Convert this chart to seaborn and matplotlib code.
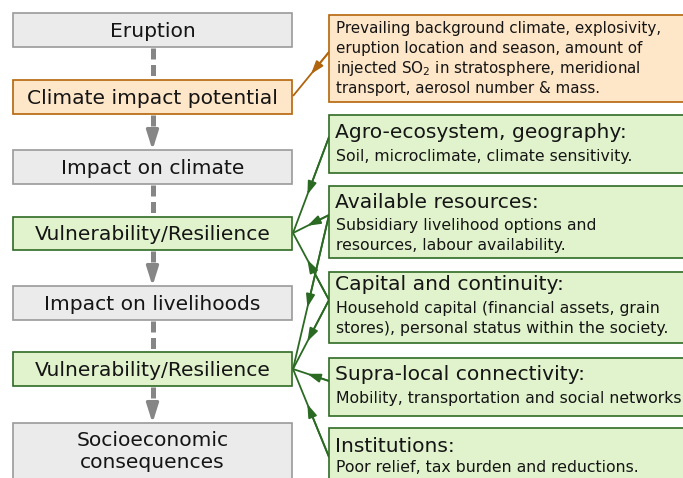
import matplotlib
matplotlib.use("Agg")
import matplotlib.pyplot as plt
import seaborn as sns
from matplotlib.patches import Rectangle

# ---------------- data ----------------
left_labels = ["Eruption", "Climate impact potential", "Impact on climate",
               "Vulnerability/Resilience", "Impact on livelihoods",
               "Vulnerability/Resilience", "Socioeconomic\nconsequences"]
left_kinds = ["gray", "orange", "gray", "green", "gray", "green", "gray"]

orange_note = ["Prevailing background climate, explosivity,",
               "eruption location and season, amount of",
               "injected SO$_2$ in stratosphere, meridional",
               "transport, aerosol number & mass."]

factor_titles = ["Agro-ecosystem, geography:", "Available resources:",
                 "Capital and continuity:", "Supra-local connectivity:",
                 "Institutions:"]
factor_texts = [["Soil, microclimate, climate sensitivity."],
                ["Subsidiary livelihood options and",
                 "resources, labour availability."],
                ["Household capital (financial assets, grain",
                 "stores), personal status within the society."],
                ["Mobility, transportation and social networks"],
                ["Poor relief, tax burden and reductions."]]

# links: (factor index, target left box index)
links = [(0, 3), (1, 3), (2, 3), (1, 5), (2, 5), (3, 5), (4, 5)]

# ---------------- layout / style ----------------
sns.set_theme(style="white")
plt.rcParams["font.family"] = ["DejaVu Sans"]
plt.rcParams["mathtext.fontset"] = "dejavusans"

W, H = 683, 478
fig = plt.figure(figsize=(W / 100, H / 100), dpi=100)
ax = fig.add_axes([0, 0, 1, 1])
ax.set_xlim(0, W)
ax.set_ylim(H, 0)
ax.axis("off")

colors = {
    "gray": ("#ebebeb", "#9a9a9a"),
    "orange": ("#fee6c8", "#b4650a"),
    "green": ("#e1f3cc", "#2f6b25"),
}
line_green = "#2a6a22"
line_orange = "#b0650c"
conn_gray = "#868686"
txt = "#151515"

BIG = 14.6
SMALL = 11.3
NOTE = 10.9

# left boxes (top, bottom)
left_y = [(13, 47), (80, 114), (150, 184), (217, 250), (286, 320), (352, 386), (423, 500)]
lx0, lx1 = 13, 292
cx = (lx0 + lx1) / 2

for (t, b), lab, kind in zip(left_y, left_labels, left_kinds):
    fc, ec = colors[kind]
    ax.add_patch(Rectangle((lx0, t), lx1 - lx0, b - t, facecolor=fc, edgecolor=ec, lw=1.2, zorder=2))
    if "\n" in lab:
        l1, l2 = lab.split("\n")
        ax.text(cx, 441, l1, ha="center", va="center", fontsize=BIG, color=txt, zorder=3)
        ax.text(cx, 462, l2, ha="center", va="center", fontsize=BIG, color=txt, zorder=3)
    else:
        ax.text(cx, (t + b) / 2 + 1, lab, ha="center", va="center", fontsize=BIG, color=txt, zorder=3)

# vertical gray connectors
for i in range(len(left_y) - 1):
    top = left_y[i][1] + 1
    bot = left_y[i + 1][0]
    has_head = left_kinds[i] != "gray"
    if has_head:
        ax.plot([cx, cx], [top, bot - 17], color=conn_gray, lw=3.6,
                linestyle=(0, (2.2, 1.1)), solid_capstyle="butt", zorder=1)
        ax.annotate("", xy=(cx, bot), xytext=(cx, bot - 18),
                    arrowprops=dict(arrowstyle="-|>,head_length=0.95,head_width=0.3",
                                    color=conn_gray, lw=2.4, shrinkA=0, shrinkB=0), zorder=1)
    else:
        ax.plot([cx, cx], [top, bot], color=conn_gray, lw=3.6,
                linestyle=(0, (2.2, 1.1)), solid_capstyle="butt", zorder=1)

# orange note box
rx0 = 329
fc, ec = colors["orange"]
ax.add_patch(Rectangle((rx0, 15), 400, 87, facecolor=fc, edgecolor=ec, lw=1.2, zorder=2))
for k, line in enumerate(orange_note):
    ax.text(336, 28 + 20 * k, line, ha="left", va="center", fontsize=NOTE, color=txt, zorder=3)

# factor boxes
factor_y = [(115, 173), (186, 258), (272, 343), (358, 416), (428, 520)]
title_y = [132, 202, 285, 375, 447]
body_y0 = [156, 225, 308, 398, 468]
fc, ec = colors["green"]
for (t, b), ttl, body, ty, by in zip(factor_y, factor_titles, factor_texts, title_y, body_y0):
    ax.add_patch(Rectangle((rx0, t), 400, b - t, facecolor=fc, edgecolor=ec, lw=1.2, zorder=2))
    ax.text(335, ty, ttl, ha="left", va="center", fontsize=BIG, color=txt, zorder=3)
    for k, line in enumerate(body):
        ax.text(336, by + 20 * k, line, ha="left", va="center", fontsize=SMALL, color=txt, zorder=3)


def arrow_mid(p0, p1, color, frac=0.58):
    ax.plot([p0[0], p1[0]], [p0[1], p1[1]], color=color, lw=1.3, zorder=1, solid_capstyle="butt")
    mid = (p0[0] + (p1[0] - p0[0]) * frac, p0[1] + (p1[1] - p0[1]) * frac)
    ax.annotate("", xy=mid, xytext=p0,
                arrowprops=dict(arrowstyle="-|>,head_length=0.65,head_width=0.22",
                                color=color, lw=1.3, shrinkA=0, shrinkB=0), zorder=1)


# orange link
arrow_mid((329, 52), (293, 96), line_orange, frac=0.5)

# green links: start points on factor boxes, end points on vulnerability boxes
start_pts = {0: (329, 137), 1: (329, 215), 2: (329, 300), 3: (329, 381), 4: (329, 457)}
end_pts = {3: (293, 233), 5: (293, 369)}
for f, tgt in links:
    arrow_mid(start_pts[f], end_pts[tgt], line_green, frac=0.6)

fig.savefig("out.png", dpi=100)
